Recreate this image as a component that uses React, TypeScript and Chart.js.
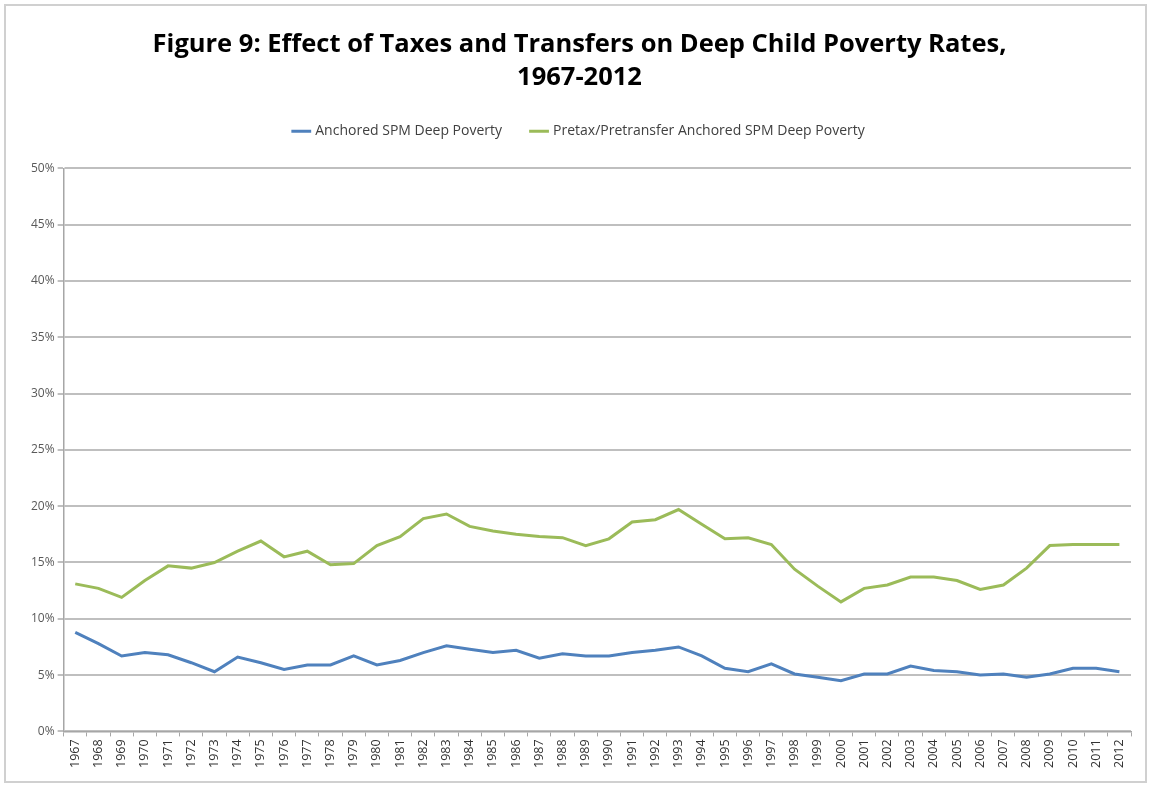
import { Chart, registerables } from "chart.js";
import { useEffect, useRef } from "react";

Chart.register(...registerables);

const years = [
  "1967", "1968", "1969", "1970", "1971", "1972", "1973", "1974", "1975", "1976",
  "1977", "1978", "1979", "1980", "1981", "1982", "1983", "1984", "1985", "1986",
  "1987", "1988", "1989", "1990", "1991", "1992", "1993", "1994", "1995", "1996",
  "1997", "1998", "1999", "2000", "2001", "2002", "2003", "2004", "2005", "2006",
  "2007", "2008", "2009", "2010", "2011", "2012",
];

// Anchored SPM deep poverty (%)
const anchored = [
  8.8, 7.8, 6.7, 7.0, 6.8, 6.1, 5.3, 6.6, 6.1, 5.5,
  5.9, 5.9, 6.7, 5.9, 6.3, 7.0, 7.6, 7.3, 7.0, 7.2,
  6.5, 6.9, 6.7, 6.7, 7.0, 7.2, 7.5, 6.7, 5.6, 5.3,
  6.0, 5.1, 4.8, 4.5, 5.1, 5.1, 5.8, 5.4, 5.3, 5.0,
  5.1, 4.8, 5.1, 5.6, 5.6, 5.3,
];

// Pretax/pretransfer anchored SPM deep poverty (%)
const pretax = [
  13.1, 12.7, 11.9, 13.4, 14.7, 14.5, 15.0, 16.0, 16.9, 15.5,
  16.0, 14.8, 14.9, 16.5, 17.3, 18.9, 19.3, 18.2, 17.8, 17.5,
  17.3, 17.2, 16.5, 17.1, 18.6, 18.8, 19.7, 18.4, 17.1, 17.2,
  16.6, 14.4, 12.9, 11.5, 12.7, 13.0, 13.7, 13.7, 13.4, 12.6,
  13.0, 14.5, 16.5, 16.6, 16.6, 16.6,
];

const titleLines = ["Figure 9: Effect of Taxes and Transfers on Deep Child Poverty Rates,", "1967-2012"];

const blue = "#4f81bd";
const green = "#9bbb59";
const fontFamily = "'Open Sans', 'Noto Sans', sans-serif";

// push the plot area down a bit below the legend
const legendGap = {
  id: "legendGap",
  beforeInit(chart: any) {
    const fit = chart.legend.fit;
    chart.legend.fit = function () {
      fit.bind(chart.legend)();
      this.height += 20;
    };
  },
};

export default function App() {
  const canvasRef = useRef<HTMLCanvasElement | null>(null);
  const chartRef = useRef<any>(null);

  useEffect(() => {
    if (!canvasRef.current) return;
    if (chartRef.current) chartRef.current.destroy();

    chartRef.current = new Chart(canvasRef.current, {
      type: "line",
      data: {
        labels: years,
        datasets: [
          {
            label: "Anchored SPM Deep Poverty",
            data: anchored,
            borderColor: blue,
            backgroundColor: blue,
            borderWidth: 3,
            pointRadius: 0,
            tension: 0,
          },
          {
            label: "Pretax/Pretransfer Anchored SPM Deep Poverty",
            data: pretax,
            borderColor: green,
            backgroundColor: green,
            borderWidth: 3,
            pointRadius: 0,
            tension: 0,
          },
        ],
      },
      plugins: [legendGap],
      options: {
        animation: false,
        responsive: true,
        maintainAspectRatio: false,
        layout: { padding: { left: 22, right: 14, bottom: 10, top: 18 } },
        plugins: {
          title: {
            display: true,
            text: titleLines,
            color: "#000",
            font: { family: fontFamily, size: 25.5, weight: "bold", lineHeight: 1.3 },
            padding: { top: 4, bottom: 0 },
          },
          legend: {
            display: true,
            labels: {
              usePointStyle: true,
              pointStyle: "line",
              boxWidth: 34,
              color: "#404040",
              font: { family: fontFamily, size: 14 },
              padding: 30,
            },
          },
          tooltip: { enabled: false },
        },
        scales: {
          x: {
            offset: true,
            grid: {
              display: true,
              drawOnChartArea: false,
              offset: true,
              color: "#a6a6a6",
              tickLength: 5,
            },
            border: { color: "#a6a6a6", width: 1.5 },
            ticks: {
              color: "#333",
              font: { family: fontFamily, size: 12.5 },
              minRotation: 90,
              maxRotation: 90,
              autoSkip: false,
            },
          },
          y: {
            min: 0,
            max: 50,
            grid: { color: "#bfbfbf", lineWidth: 2, tickLength: 6 },
            border: { color: "#a6a6a6", width: 1.5 },
            ticks: {
              stepSize: 5,
              color: "#595959",
              font: { family: fontFamily, size: 12 },
              callback: (value: any) => `${value}%`,
            },
          },
        },
      },
    });

    return () => chartRef.current?.destroy();
  }, []);

  return (
    <div
      style={{
        position: "fixed",
        left: 0,
        top: 0,
        width: 1151,
        height: 787,
        background: "#fff",
        boxSizing: "border-box",
        padding: 4,
      }}
    >
      <div
        style={{
          width: "100%",
          height: "100%",
          border: "2px solid #d0d0d0",
          boxSizing: "border-box",
          position: "relative",
        }}
      >
        <canvas ref={canvasRef}></canvas>
      </div>
    </div>
  );
}
